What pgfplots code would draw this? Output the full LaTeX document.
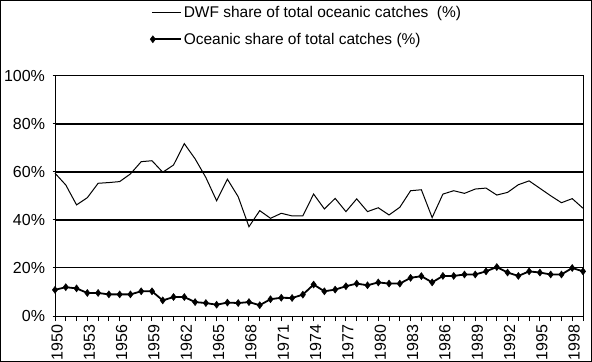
\documentclass[border=0pt]{standalone}
\usepackage{pgfplots}
\pgfplotsset{compat=1.18}
\usepackage{fontspec}
\setmainfont{Liberation Sans}
\pgfplotstableread{
year dwf
1950 59.5
1951 54.6
1952 46.3
1953 49.3
1954 55.3
1955 55.6
1956 56.0
1957 59.2
1958 64.3
1959 64.7
1960 59.9
1961 62.9
1962 71.8
1963 65.5
1964 57.7
1965 48.0
1966 57.0
1967 49.7
1968 37.2
1969 43.9
1970 40.7
1971 42.8
1972 41.7
1973 41.7
1974 50.8
1975 44.6
1976 49.0
1977 43.5
1978 48.8
1979 43.5
1980 45.1
1981 42.1
1982 45.3
1983 52.2
1984 52.6
1985 41.0
1986 50.8
1987 52.2
1988 51.1
1989 52.9
1990 53.3
1991 50.4
1992 51.5
1993 54.7
1994 56.3
1995 53.2
1996 50.1
1997 47.2
1998 48.9
1999 44.9
}\dwftable
\pgfplotstableread{
year oce
1950 10.9
1951 12.0
1952 11.5
1953 9.6
1954 9.6
1955 9.0
1956 9.0
1957 9.0
1958 10.3
1959 10.3
1960 6.5
1961 7.9
1962 7.9
1963 5.8
1964 5.4
1965 4.7
1966 5.6
1967 5.4
1968 5.8
1969 4.5
1970 7.0
1971 7.6
1972 7.5
1973 8.9
1974 13.1
1975 10.3
1976 11.0
1977 12.4
1978 13.5
1979 12.8
1980 14.0
1981 13.5
1982 13.5
1983 15.9
1984 16.6
1985 14.0
1986 16.7
1987 16.7
1988 17.3
1989 17.3
1990 18.6
1991 20.4
1992 18.1
1993 16.7
1994 18.6
1995 18.1
1996 17.3
1997 17.3
1998 20.0
1999 18.6
}\ocetable
\begin{document}
\begin{tikzpicture}
\path[use as bounding box] (0,0) rectangle (592bp,362bp);
\begin{scope}
\clip (0,0) rectangle (592bp,362bp);
\begin{axis}[
  at={(55bp,46bp)}, anchor=south west,
  scale only axis, width=528bp, height=240bp,
  xmin=1950, xmax=1999, ymin=0, ymax=100,
  axis line style={line width=1bp},
  xtick={1950,1953,1956,1959,1962,1965,1968,1971,1974,1977,1980,1983,1986,1989,1992,1995,1998},
  xticklabels={1950,1953,1956,1959,1962,1965,1968,1971,1974,1977,1980,1983,1986,1989,1992,1995,1998},
  minor xtick={1950,1951,...,1999},
  ytick={0,20,40,60,80,100},
  yticklabels={0\%,20\%,40\%,60\%,80\%,100\%},
  xtick pos=bottom, ytick pos=left,
  x tick style={line width=1bp, black},
  y tick style={line width=1bp, black},
  xtick align=outside, ytick align=center,
  major tick length=5bp, minor tick length=5bp,
  ticklabel style={font=\fontsize{16bp}{19bp}\selectfont},
  xticklabel style={rotate=90, anchor=east, xshift=0bp, yshift=-2bp},
  yticklabel style={anchor=east, xshift=-4bp},
  ymajorgrids, grid style={line width=1bp, black},
  extra y ticks={40,60,80}, extra y tick labels={},
  extra y tick style={grid style={line width=2bp, black}, major tick length=0pt},
  legend style={at={(axis description cs:0.18,1.30)}, anchor=north west,
    draw=none, fill=none, inner sep=0pt,
    font=\fontsize{15.5bp}{18bp}\selectfont, row sep=10bp,
    /tikz/every even column/.append style={column sep=2bp}},
  legend cell align=left,
  clip=false,
]
\addplot[black, line width=1bp, mark=none,
  legend image code/.code={\draw[line width=1bp] (0bp,0bp) -- (29bp,0bp);}]
  table[x=year, y=dwf] {\dwftable};
\addlegendentry{DWF share of total oceanic catches\ \ (\%)}
\addplot[black, line width=1.8bp, mark=diamond*, mark size=3.5bp,
  mark options={solid, line width=0.5bp},
  legend image code/.code={\draw[line width=1.8bp, mark repeat=2, mark phase=1] plot coordinates {(1bp,0bp) (29bp,0bp)};}]
  table[x=year, y=oce] {\ocetable};
\addlegendentry{Oceanic share of total catches (\%)}
\end{axis}
\end{scope}
\draw[line width=1bp] (0.5bp,0.5bp) rectangle (591.5bp,361.5bp);
\end{tikzpicture}
\end{document}
